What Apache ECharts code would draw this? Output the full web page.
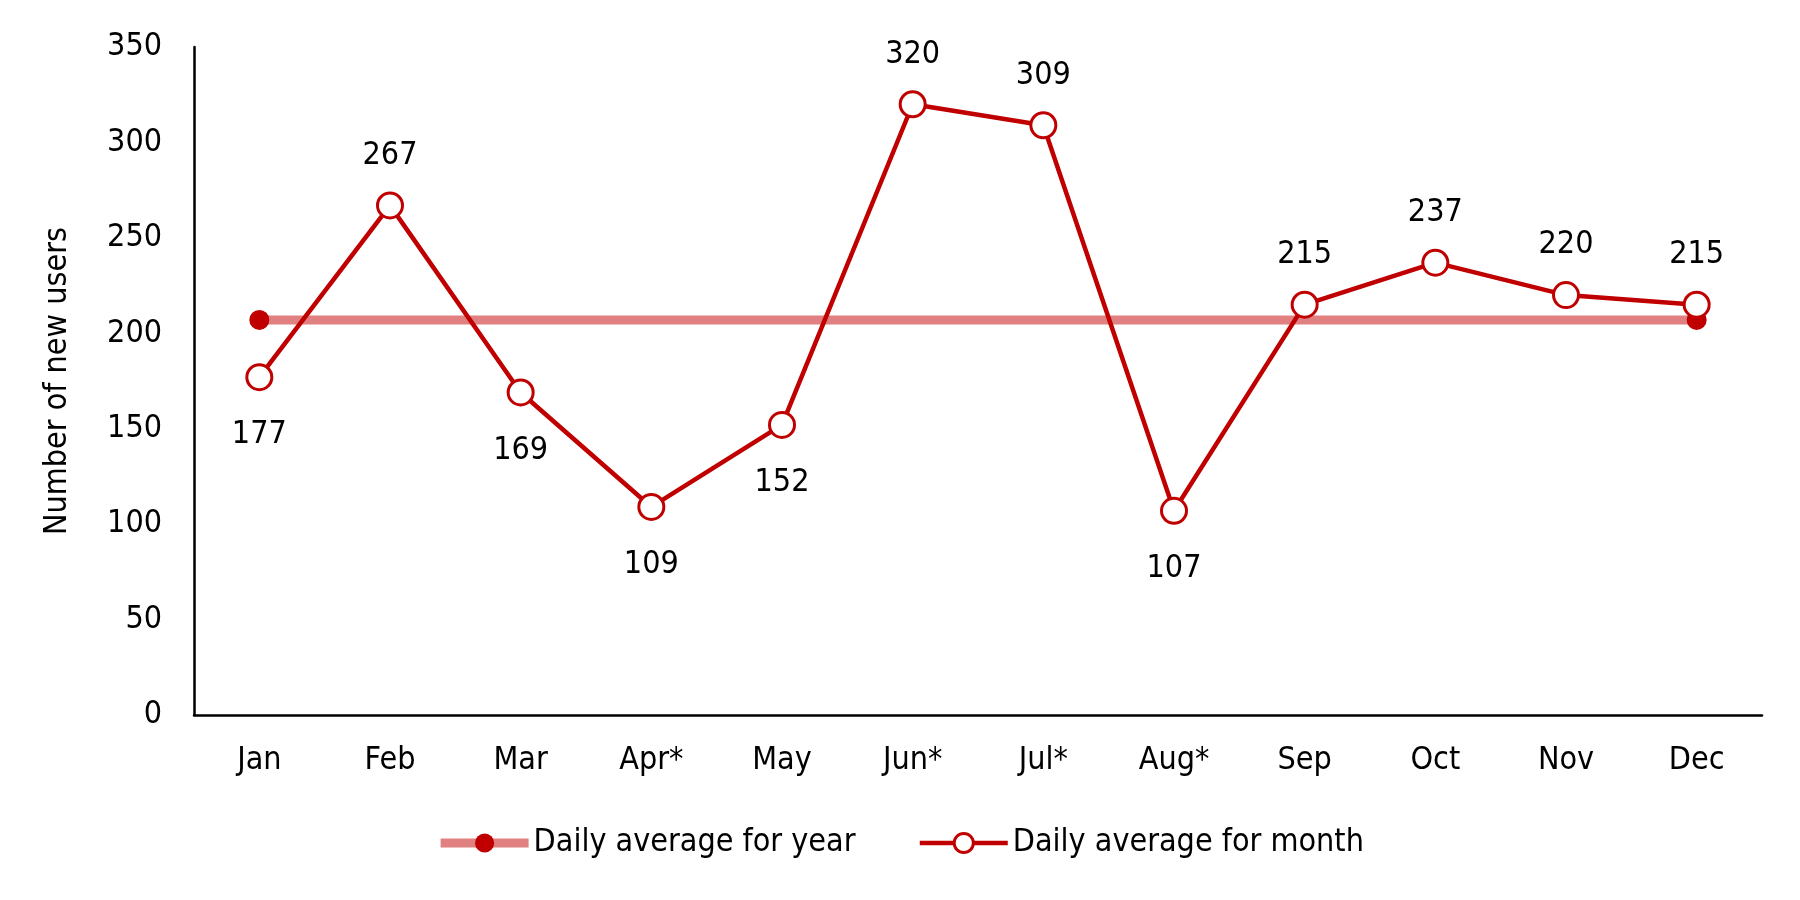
<!DOCTYPE html>
<html><head><meta charset="utf-8">
<script src="https://cdn.jsdelivr.net/npm/echarts@6/dist/echarts.min.js"></script>
<style>html,body{margin:0;padding:0;background:#fff}#c{width:1800px;height:900px}</style>
</head><body><div id="c"></div>
<script>
const categories = ['Jan','Feb','Mar','Apr*','May','Jun*','Jul*','Aug*','Sep','Oct','Nov','Dec'];
const monthValues = [177,267,169,109,152,320,309,107,215,237,220,215];
const labelSides = ['bottom','top','bottom','bottom','bottom','top','top','bottom','top','top','top','top'];
const yearAverage = [207,207,207,207,207,207,207,207,207,207,207,207];
const FONT = '"Liberation Sans Narrow","DejaVu Sans Condensed","Arial Narrow",sans-serif';
const FS = 32;
const chart = echarts.init(document.getElementById('c'));
chart.setOption({
  animation:false,
  textStyle:{fontFamily:FONT,color:'#000'},
  grid:{left:194,right:38,top:47,bottom:185},
  legend:{bottom:36,left:'center',itemWidth:88,itemHeight:24,itemGap:62,
    textStyle:{fontFamily:FONT,fontSize:FS,color:'#000'},
    lineStyle:{width:'inherit'},
    data:[
      {name:'Daily average for year',lineStyle:{width:9,color:'#e08080'},itemStyle:{color:'#c00000'}},
      {name:'Daily average for month',lineStyle:{width:4.5,color:'#c00000'},itemStyle:{color:'#fff',borderColor:'#c00000',borderWidth:3}}
    ]},
  xAxis:{type:'category',data:categories,boundaryGap:true,
    axisLine:{lineStyle:{color:'#000',width:2.5}},axisTick:{show:false},
    axisLabel:{fontFamily:FONT,fontSize:FS,color:'#000',margin:30}},
  yAxis:{type:'value',min:0,max:350,interval:50,name:'Number of new users',nameLocation:'middle',nameGap:120,
    nameTextStyle:{fontFamily:FONT,fontSize:FS,color:'#000'},
    axisLine:{show:true,lineStyle:{color:'#000',width:2.5}},axisTick:{show:false},splitLine:{show:false},
    axisLabel:{fontFamily:FONT,fontSize:FS,color:'#000',margin:32}},
  series:[
    {name:'Daily average for year',type:'line',data:yearAverage.map((v,i)=>({value:v,symbol:(i===0||i===yearAverage.length-1)?'circle':'none'})),
      symbol:'circle',symbolSize:20,showAllSymbol:true,
      lineStyle:{color:'#e08080',width:9},itemStyle:{color:'#c00000'},z:2},
    {name:'Daily average for month',type:'line',
      data:monthValues.map((v,i)=>({value:v,label:{position:labelSides[i],distance:labelSides[i]==='top'?20:28}})),
      symbol:'circle',symbolSize:25,
      lineStyle:{color:'#c00000',width:4.5},itemStyle:{color:'#fff',borderColor:'#c00000',borderWidth:3},
      label:{show:true,fontFamily:FONT,fontSize:FS,color:'#000'},z:3}
  ]
});
</script></body></html>
